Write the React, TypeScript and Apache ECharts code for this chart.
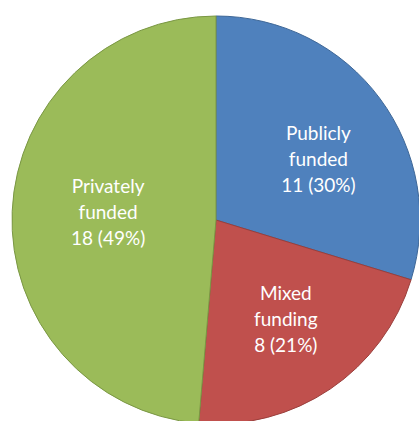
import React, { useEffect, useRef } from "react";
import * as echarts from "echarts";

const categories = ["Publicly funded", "Mixed funding", "Privately funded"];
const counts = [11, 8, 18];
const colors = ["#4F81BD", "#C0504D", "#9BBB59"];
const borderColors = ["#3E6797", "#9A3E3B", "#7A9744"];

export default function App() {
  const ref = useRef<HTMLDivElement>(null);
  useEffect(() => {
    if (!ref.current) return;
    const chart = echarts.init(ref.current, undefined, { renderer: "svg" });
    const labelShift: Record<number, [number, number]> = {
      0: [18, 1],
      1: [11, 12],
      2: [-3, -4],
    };
    chart.setOption({
      animation: false,
      backgroundColor: "#ffffff",
      series: [
        {
          type: "pie",
          center: [216, 220],
          radius: 204,
          startAngle: 90,
          clockwise: true,
          percentPrecision: 0,
          avoidLabelOverlap: false,
          label: {
            show: true,
            position: "inside",
            color: "#ffffff",
            fontFamily: "Lato, 'Noto Sans', sans-serif",
            fontSize: 19,
            lineHeight: 26,
            align: "center",
            formatter: (p: any) =>
              `${String(p.name).replace(" ", "\n")}\n${p.value} (${p.percent}%)`,
          },
          labelLine: { show: false },
          labelLayout: (params: any) => {
            const s = labelShift[params.dataIndex] || [0, 0];
            return { dx: s[0], dy: s[1] };
          },
          emphasis: { disabled: true },
          data: categories.map((name, i) => ({
            name,
            value: counts[i],
            itemStyle: {
              color: colors[i],
              borderColor: borderColors[i],
              borderWidth: 1,
            },
          })),
        },
      ],
    });
    return () => chart.dispose();
  }, []);
  return (
    <div
      ref={ref}
      style={{ position: "fixed", left: 0, top: 0, width: 419, height: 421 }}
    />
  );
}
